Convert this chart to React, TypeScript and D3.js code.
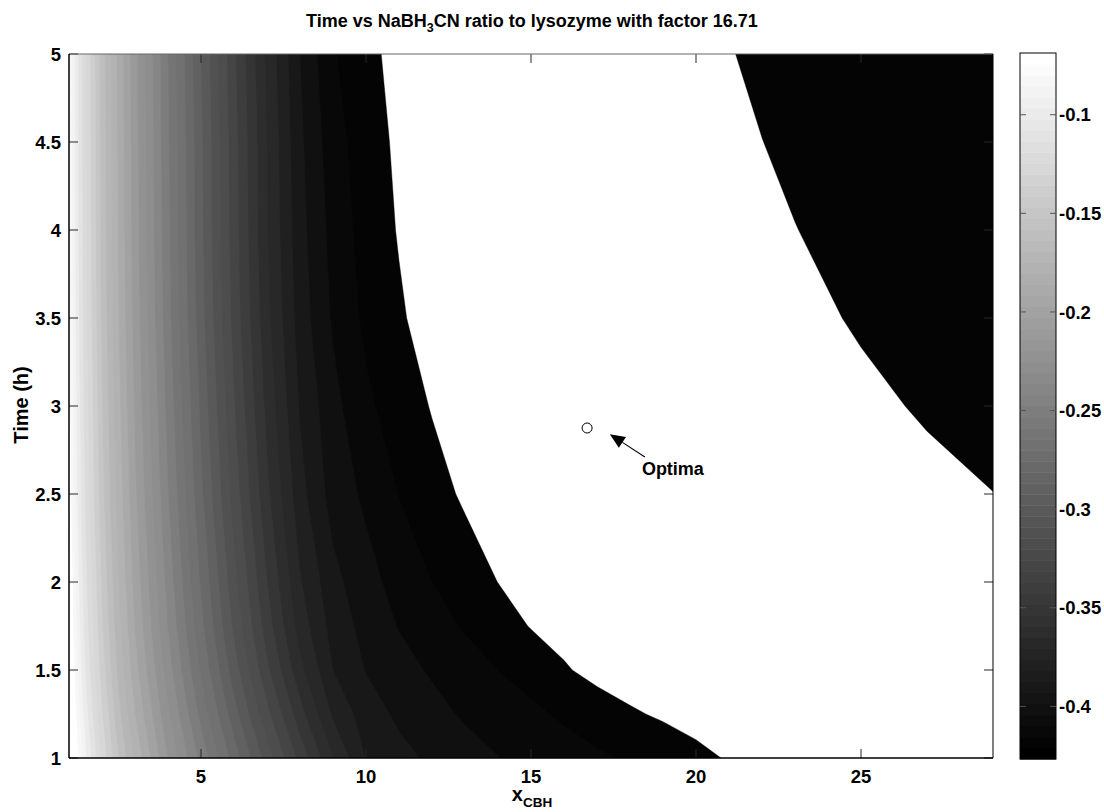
import React from 'react';
import * as d3 from 'd3';

// ---- data ----
const xGrid = [1, 1.25, 1.5, 2, 2.5, 3, 4, 5, 6, 7, 8, 9, 10, 11, 12, 13, 14, 15, 16, 17, 18, 19, 20, 21, 22, 23, 25, 27, 29];
const tGrid = [1, 1.25, 1.5, 1.75, 2, 2.5, 3, 3.5, 4, 4.5, 5];

const zT100 = [-0.040, -0.0666, -0.088, -0.1227, -0.1496, -0.1722, -0.2103, -0.2434, -0.2746, -0.3046, -0.3332, -0.3594, -0.3805, -0.3868, -0.392, -0.396, -0.3997, -0.4028, -0.4057, -0.4085, -0.4109, -0.4143, -0.4175, -0.4208, -0.4235, -0.425, -0.4255, -0.4255, -0.4255];
const zT125 = [-0.0464, -0.0741, -0.0953, -0.1292, -0.1572, -0.1801, -0.2184, -0.2532, -0.2858, -0.3171, -0.346, -0.3717, -0.385, -0.392, -0.3968, -0.4013, -0.4048, -0.408, -0.4115, -0.415, -0.4189, -0.4212, -0.4235, -0.425, -0.4255, -0.4255, -0.425, -0.4245, -0.424];
const zT150 = [-0.052, -0.0794, -0.1011, -0.1349, -0.1629, -0.1864, -0.2253, -0.2613, -0.2953, -0.3278, -0.357, -0.380, -0.3905, -0.3965, -0.4012, -0.4055, -0.410, -0.4135, -0.419, -0.423, -0.4245, -0.425, -0.425, -0.4248, -0.4245, -0.4242, -0.4238, -0.4234, -0.423];
const zT175 = [-0.0562, -0.0832, -0.105, -0.1391, -0.1671, -0.1907, -0.2305, -0.2673, -0.3021, -0.335, -0.3646, -0.384, -0.3935, -0.4005, -0.406, -0.411, -0.4155, -0.4205, -0.4235, -0.425, -0.4255, -0.4255, -0.425, -0.4248, -0.4245, -0.424, -0.4235, -0.423, -0.4225];
const zT200 = [-0.0589, -0.0858, -0.1076, -0.1418, -0.1699, -0.1935, -0.2339, -0.2712, -0.3066, -0.3397, -0.369, -0.387, -0.3965, -0.4036, -0.4099, -0.4152, -0.4201, -0.4245, -0.427, -0.428, -0.4282, -0.428, -0.4275, -0.427, -0.4265, -0.426, -0.4248, -0.4235, -0.4225];
const zT250 = [-0.0635, -0.0901, -0.112, -0.1465, -0.1745, -0.1983, -0.2396, -0.2779, -0.3142, -0.3476, -0.3764, -0.3942, -0.4019, -0.4102, -0.4164, -0.4214, -0.4255, -0.428, -0.4295, -0.430, -0.4298, -0.429, -0.428, -0.427, -0.426, -0.425, -0.4232, -0.4215, -0.4201];
const zT300 = [-0.0666, -0.093, -0.1149, -0.1496, -0.1776, -0.2015, -0.2434, -0.2823, -0.3192, -0.3529, -0.381, -0.3969, -0.408, -0.4149, -0.4206, -0.4255, -0.429, -0.431, -0.432, -0.4318, -0.4305, -0.429, -0.4275, -0.426, -0.4248, -0.4236, -0.4212, -0.4194, -0.4165];
const zT350 = [-0.0692, -0.0954, -0.1173, -0.1521, -0.1801, -0.2041, -0.2465, -0.286, -0.3234, -0.3572, -0.3848, -0.4013, -0.4121, -0.4187, -0.4243, -0.428, -0.431, -0.433, -0.4335, -0.433, -0.431, -0.4285, -0.426, -0.4245, -0.423, -0.4215, -0.4194, -0.4155, -0.4135];
const zT400 = [-0.0703, -0.0964, -0.1184, -0.1533, -0.1813, -0.2053, -0.248, -0.2876, -0.3253, -0.3593, -0.3865, -0.4035, -0.414, -0.4207, -0.425, -0.429, -0.432, -0.434, -0.4345, -0.4335, -0.431, -0.428, -0.4255, -0.423, -0.4215, -0.4202, -0.4165, -0.4138, -0.4122];
const zT450 = [-0.071, -0.097, -0.119, -0.154, -0.182, -0.206, -0.249, -0.288, -0.326, -0.360, -0.388, -0.4058, -0.4153, -0.4219, -0.426, -0.430, -0.433, -0.435, -0.4355, -0.434, -0.431, -0.428, -0.4245, -0.422, -0.4201, -0.418, -0.4145, -0.4125, -0.4115];
const zT500 = [-0.072, -0.098, -0.120, -0.155, -0.183, -0.207, -0.250, -0.290, -0.328, -0.362, -0.390, -0.409, -0.417, -0.4235, -0.427, -0.431, -0.434, -0.436, -0.436, -0.434, -0.431, -0.427, -0.4235, -0.4205, -0.418, -0.416, -0.413, -0.4115, -0.411];

const levels = [-0.42, -0.41, -0.40, -0.39, -0.38, -0.37, -0.36, -0.35, -0.34, -0.33, -0.32, -0.31, -0.30, -0.29, -0.28, -0.27, -0.26, -0.25, -0.24, -0.23, -0.22, -0.21, -0.20, -0.19, -0.18, -0.17, -0.16, -0.15, -0.14, -0.13, -0.12, -0.11, -0.10, -0.09, -0.08, -0.07];

const xTicks = [5, 10, 15, 20, 25];
const yTicks = [1, 1.5, 2, 2.5, 3, 3.5, 4, 4.5, 5];
const cbTicks = [-0.4, -0.35, -0.3, -0.25, -0.2, -0.15, -0.1];
const cbRange = [-0.4267, -0.0687];
const optimum = { x: 16.7, t: 2.875 };
const arrowTip = { x: 17.39, t: 2.84 };
const arrowTail = { x: 18.45, t: 2.71 };
const labelPos = { x: 18.36, t: 2.608 };

const FONT = '"Liberation Sans", Arial, Helvetica, sans-serif';

export default function App() {
  const W = 1104, H = 812;
  const left = 69, right = 993, top = 54, bottom = 758;
  const x = d3.scaleLinear().domain([1, 29]).range([left, right]);
  const y = d3.scaleLinear().domain([1, 5]).range([bottom, top]);

  const nx = xGrid.length, ny = tGrid.length;
  const colToX = d3.scaleLinear().domain(xGrid.map((_, i) => i + 0.5)).range(xGrid);
  const rowToT = d3.scaleLinear().domain(tGrid.map((_, j) => j + 0.5)).range(tGrid);
  const rows = [zT100, zT125, zT150, zT175, zT200, zT250, zT300, zT350, zT400, zT450, zT500];
  const values = rows.flat();
  const contours = d3.contours().size([nx, ny]).thresholds(levels).smooth(true)(values);
  const proj = d3.geoTransform({
    point: function (px: number, py: number) {
      // @ts-ignore
      this.stream.point(x(colToX(px)), y(rowToT(py)));
    },
  });
  const path = d3.geoPath(proj as any);

  const nColors = 64;
  const grayOf = (v: number) => {
    const f = (v - cbRange[0]) / (cbRange[1] - cbRange[0]);
    const idx = Math.max(0, Math.min(nColors - 1, Math.floor(f * nColors)));
    const g = Math.round((idx / (nColors - 1)) * 255);
    return `rgb(${g},${g},${g})`;
  };

  const cbLeft = 1020, cbW = 36, cbTop = 53, cbBottom = 759;
  const cbY = d3.scaleLinear().domain(cbRange).range([cbBottom, cbTop]);
  const stripeH = (cbBottom - cbTop) / nColors;

  const tip = [x(arrowTip.x), y(arrowTip.t)];
  const tail = [x(arrowTail.x), y(arrowTail.t)];
  const dx = tip[0] - tail[0], dy = tip[1] - tail[1];
  const len = Math.hypot(dx, dy);
  const ux = dx / len, uy = dy / len;
  const headLen = 15, headW = 6.5;
  const base = [tip[0] - ux * headLen, tip[1] - uy * headLen];
  const head = [
    tip,
    [base[0] - uy * headW, base[1] + ux * headW],
    [base[0] + uy * headW, base[1] - ux * headW],
  ];

  const tickLen = 9;
  const tickColor = '#262626';
  const fs = 18.5;

  return (
    <svg width={W} height={H} style={{ position: 'absolute', left: 0, top: 0, background: '#fff' }} fontFamily={FONT}>
      <rect x={0} y={0} width={W} height={H} fill="#fff" />
      <defs>
        <clipPath id="plotClip">
          <rect x={left} y={top} width={right - left} height={bottom - top} />
        </clipPath>
      </defs>
      <g clipPath="url(#plotClip)">
        {contours.map((c, i) => (
          <path key={i} d={path(c as any) || ''} fill={grayOf(c.value)} stroke={grayOf(c.value)} strokeWidth={0.4} fillRule="evenodd" />
        ))}
      </g>

      {/* ticks */}
      {xTicks.map((v) => (
        <g key={'xt' + v}>
          <line x1={x(v)} x2={x(v)} y1={bottom} y2={bottom - tickLen} stroke={tickColor} strokeWidth={1} />
          <line x1={x(v)} x2={x(v)} y1={top} y2={top + tickLen} stroke={tickColor} strokeWidth={1} />
          <text x={x(v)} y={783} textAnchor="middle" fontSize={fs} fontWeight="bold">{v}</text>
        </g>
      ))}
      {yTicks.map((v) => (
        <g key={'yt' + v}>
          <line x1={left} x2={left + tickLen} y1={y(v)} y2={y(v)} stroke={tickColor} strokeWidth={1} />
          <line x1={right} x2={right - tickLen} y1={y(v)} y2={y(v)} stroke={tickColor} strokeWidth={1} />
          <text x={61} y={y(v)} dy="0.36em" textAnchor="end" fontSize={fs} fontWeight="bold">{v}</text>
        </g>
      ))}

      {/* axes box */}
      <line x1={left} x2={right} y1={top} y2={top} stroke="#666" strokeWidth={1} />
      <line x1={right} x2={right} y1={top} y2={bottom} stroke="#000" strokeWidth={1} />
      <line x1={left} x2={left} y1={top} y2={bottom} stroke="#000" strokeWidth={1.5} />
      <line x1={left} x2={right} y1={bottom} y2={bottom} stroke="#000" strokeWidth={1.5} />

      {/* optimum */}
      <circle cx={x(optimum.x)} cy={y(optimum.t)} r={5} fill="#fff" stroke="#000" strokeWidth={1} />
      <line x1={tail[0]} y1={tail[1]} x2={base[0]} y2={base[1]} stroke="#000" strokeWidth={1.1} />
      <polygon points={head.map((p) => p.join(',')).join(' ')} fill="#000" />
      <text x={x(labelPos.x)} y={y(labelPos.t)} fontSize={18} fontWeight="bold">Optima</text>

      {/* title */}
      <text x={532} y={27} textAnchor="middle" fontSize={18} fontWeight="bold">
        Time vs NaBH<tspan dy={5} fontSize={12.5}>3</tspan><tspan dy={-5}>CN ratio to lysozyme with factor 16.71</tspan>
      </text>

      {/* axis labels */}
      <text x={532} y={801} textAnchor="middle" fontSize={20} fontWeight="bold">
        x<tspan dy={6} fontSize={13.5}>CBH</tspan>
      </text>
      <text transform="translate(28,405) rotate(-90)" textAnchor="middle" fontSize={20} fontWeight="bold">Time (h)</text>

      {/* colorbar */}
      {d3.range(nColors).map((i) => {
        const g = Math.round((i / (nColors - 1)) * 255);
        return (
          <rect key={'cb' + i} x={cbLeft} y={cbBottom - (i + 1) * stripeH} width={cbW} height={stripeH + 0.5} fill={`rgb(${g},${g},${g})`} />
        );
      })}
      <rect x={cbLeft} y={cbTop} width={cbW} height={cbBottom - cbTop} fill="none" stroke="#000" strokeWidth={1} />
      {cbTicks.map((v) => (
        <g key={'cbt' + v}>
          <line x1={cbLeft} x2={cbLeft + 6} y1={cbY(v)} y2={cbY(v)} stroke="#555" strokeWidth={1} />
          <line x1={cbLeft + cbW} x2={cbLeft + cbW - 6} y1={cbY(v)} y2={cbY(v)} stroke="#555" strokeWidth={1} />
          <text x={1059} y={cbY(v)} dy="0.36em" fontSize={fs} fontWeight="bold">{String(v)}</text>
        </g>
      ))}
    </svg>
  );
}
